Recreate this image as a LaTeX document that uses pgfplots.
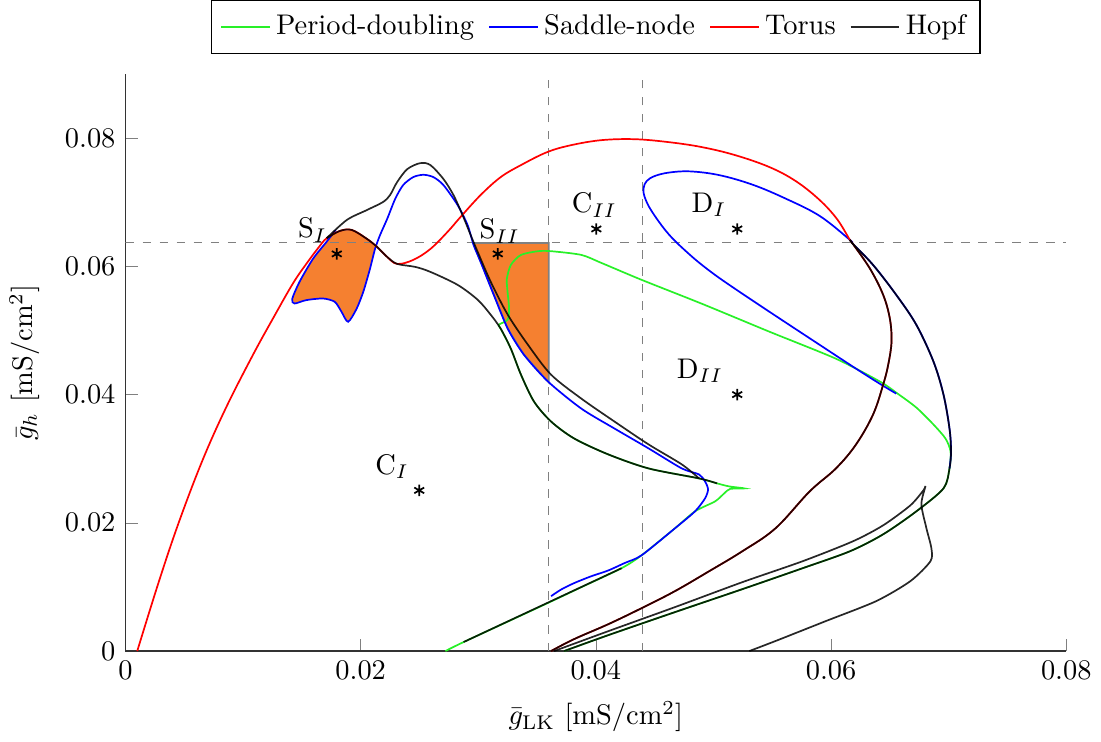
\documentclass[border=0pt]{standalone}
\usepackage{pgfplots}
\pgfplotsset{compat=1.18}
\definecolor{fillor}{RGB}{245,128,48}
\definecolor{pdgreen}{RGB}{40,240,40}
\begin{document}
\begin{tikzpicture}
\begin{axis}[
  scale only axis, width=331pt, height=203pt,
  xmin=0, xmax=0.08, ymin=0, ymax=0.09,
  axis lines*=left, tick align=inside,
  axis line style={black!80},
  major tick style={gray},
  xtick={0,0.02,0.04,0.06,0.08}, ytick={0,0.02,0.04,0.06,0.08},
  scaled ticks=false,
  xticklabel style={/pgf/number format/fixed,/pgf/number format/precision=2},
  yticklabel style={/pgf/number format/fixed,/pgf/number format/precision=2},
  xlabel={$\bar{g}_{\mathrm{LK}}$ [mS/cm$^2$]},
  ylabel={$\bar{g}_h$ [mS/cm$^2$]},
  ylabel shift=2pt, xlabel shift=1pt,
  legend style={at={(0.5,1.035)}, anchor=south, legend columns=-1, draw=black,
    inner ysep=3pt, /tikz/every even column/.append style={column sep=3pt}},
  every axis plot/.append style={line width=0.6pt},
]
\addlegendimage{pdgreen}\addlegendentry{Period-doubling}
\addlegendimage{blue}\addlegendentry{Saddle-node}
\addlegendimage{red}\addlegendentry{Torus}
\addlegendimage{black!85}\addlegendentry{Hopf}

% orange regions
\addplot[fill=fillor, draw=none, forget plot] coordinates {
(0.01711,0.06440)(0.01823,0.06553)(0.01925,0.06568)(0.02054,0.06428)(0.02139,0.06304)(0.02122,0.06272)
(0.02079,0.05961)(0.02022,0.05603)(0.01965,0.05338)(0.01893,0.05136)(0.01837,0.05292)(0.01780,0.05447)
(0.01680,0.05499)(0.01538,0.05474)(0.01437,0.05421)(0.01418,0.05494)(0.01480,0.05759)(0.01594,0.06117)(0.01709,0.06381)} -- cycle;
\addplot[fill=fillor, draw=gray, forget plot] coordinates {
(0.02955,0.06366)(0.03020,0.06070)(0.03132,0.05556)(0.03251,0.05027)(0.03388,0.04623)(0.03594,0.04202)(0.0360,0.0419)(0.0360,0.06366)} -- cycle;

% dashed guides
\addplot[gray, dashed, line width=0.4pt, forget plot] coordinates {(0.036,0)(0.036,0.09)};
\addplot[gray, dashed, line width=0.4pt, forget plot] coordinates {(0.044,0)(0.044,0.09)};
\addplot[gray, dashed, line width=0.4pt, forget plot] coordinates {(0,0.06366)(0.08,0.06366)};

% Period-doubling
\addplot[pdgreen, smooth, tension=0.45, forget plot] coordinates {
(0.02721,0)(0.02875,0.00140)(0.03534,0.00700)(0.03876,0.00996)(0.04218,0.01292)(0.04389,0.01494)
(0.04672,0.01914)(0.04843,0.02179)(0.05014,0.02335)(0.05091,0.02459)(0.05142,0.02529)(0.05262,0.02537)
(0.05134,0.02568)(0.05031,0.02615)(0.04877,0.02693)(0.04449,0.02848)(0.04107,0.03066)(0.03816,0.03315)
(0.03619,0.03580)(0.03474,0.03891)(0.03363,0.04311)(0.03277,0.04716)(0.03191,0.05027)(0.03174,0.05089)
(0.03249,0.05167)(0.03262,0.05338)(0.03249,0.05603)(0.03243,0.05805)(0.03277,0.06023)(0.03363,0.06179)
(0.03508,0.06237)(0.03619,0.06237)(0.03876,0.06179)(0.04047,0.06054)(0.04389,0.05790)(0.04903,0.05416)
(0.05476,0.04981)(0.06041,0.04560)(0.06417,0.04202)(0.06554,0.04031)(0.06725,0.03798)(0.06871,0.03533)
(0.06973,0.03315)(0.07016,0.03113)(0.07007,0.02848)(0.06956,0.02537)(0.06725,0.02179)(0.06443,0.01821)
(0.06160,0.01556)(0.05758,0.01292)(0.05245,0.00965)(0.04672,0.00607)(0.04107,0.00249)(0.03730,0)};

% Saddle-node
\addplot[blue, smooth, tension=0.45, forget plot] coordinates {
(0.01788,0.06568)(0.01709,0.06381)(0.01594,0.06117)(0.01480,0.05759)(0.01418,0.05494)(0.01437,0.05421)
(0.01538,0.05474)(0.01680,0.05499)(0.01780,0.05447)(0.01837,0.05292)(0.01893,0.05136)(0.01965,0.05338)
(0.02022,0.05603)(0.02079,0.05961)(0.02122,0.06272)(0.02165,0.06490)(0.02225,0.06739)(0.02293,0.07051)
(0.02361,0.07268)(0.02447,0.07393)(0.02533,0.07429)(0.02618,0.07393)(0.02704,0.07268)(0.02824,0.06957)
(0.02909,0.06646)(0.02960,0.06335)(0.03020,0.06070)(0.03132,0.05556)(0.03251,0.05027)(0.03388,0.04623)
(0.03594,0.04202)(0.03876,0.03782)(0.04158,0.03471)(0.04449,0.03160)(0.04731,0.02848)(0.04877,0.02755)
(0.04928,0.02646)(0.04954,0.02521)(0.04928,0.02381)(0.04843,0.02179)(0.04672,0.01914)(0.04389,0.01494)
(0.04246,0.01374)(0.04104,0.01256)(0.03961,0.01167)(0.03819,0.01063)(0.03705,0.00960)(0.03619,0.00856)};
\addplot[blue, smooth, tension=0.6, forget plot] coordinates {
(0.06554,0.04016)(0.06426,0.04156)(0.06212,0.04405)(0.05929,0.04745)(0.05476,0.05292)
(0.05134,0.05712)(0.04960,0.05940)(0.04800,0.06180)(0.04620,0.06500)(0.04475,0.06860)(0.04415,0.07082)(0.04406,0.07222)
(0.04432,0.07331)(0.04500,0.07409)(0.04620,0.07463)(0.04800,0.07482)(0.05048,0.07424)(0.05330,0.07276)
(0.05613,0.07058)(0.05904,0.06786)(0.06160,0.06413)(0.06186,0.06350)(0.06357,0.06023)(0.06554,0.05556)
(0.06725,0.05089)(0.06871,0.04514)(0.06956,0.04000)(0.07007,0.03471)(0.07020,0.03113)(0.07007,0.02848)};

% Torus
\addplot[red, smooth, tension=0.6, forget plot] coordinates {
(0.00100,0)(0.00285,0.01090)(0.00456,0.02020)(0.00656,0.02980)(0.00856,0.03800)(0.01084,0.04620)
(0.01255,0.05190)(0.01426,0.05740)(0.01550,0.06070)(0.01640,0.06290)(0.01711,0.06440)
(0.01823,0.06553)(0.01925,0.06568)(0.02054,0.06428)(0.02139,0.06304)(0.02225,0.06148)(0.02310,0.06039)
(0.02447,0.06101)(0.02593,0.06272)(0.02738,0.06537)(0.02849,0.06770)(0.03020,0.07113)(0.03191,0.07393)
(0.03363,0.07580)(0.03585,0.07782)(0.03790,0.07891)(0.04047,0.07969)(0.04329,0.07984)(0.04620,0.07938)
(0.04903,0.07860)(0.05185,0.07735)(0.05476,0.07549)(0.05700,0.07330)(0.05900,0.07040)(0.06050,0.06740)(0.06160,0.06413)
(0.06186,0.06350)(0.06332,0.05961)(0.06443,0.05556)(0.06500,0.05183)(0.06514,0.04825)(0.06486,0.04467)
(0.06443,0.04156)(0.06357,0.03689)(0.06212,0.03222)(0.06041,0.02848)(0.05818,0.02490)(0.05527,0.01914)
(0.05245,0.01556)(0.04963,0.01245)(0.04672,0.00934)(0.04389,0.00669)(0.04107,0.00420)(0.03816,0.00187)(0.03619,0)};

% Hopf
\addplot[black, opacity=0.85, smooth, tension=0.5, forget plot] coordinates {
(0.01711,0.06440)(0.01823,0.06553)(0.01925,0.06568)(0.02054,0.06428)(0.02139,0.06304)(0.02225,0.06148)
(0.02310,0.06039)(0.02464,0.05992)(0.02593,0.05914)(0.02824,0.05712)(0.02995,0.05479)(0.03106,0.05245)
(0.03191,0.05027)(0.03277,0.04716)(0.03363,0.04311)(0.03474,0.03891)(0.03619,0.03580)(0.03816,0.03315)
(0.04107,0.03066)(0.04449,0.02848)(0.04877,0.02693)(0.05031,0.02615)};
\addplot[black, opacity=0.85, smooth, tension=0.5, forget plot] coordinates {
(0.01711,0.06440)(0.01882,0.06724)(0.02053,0.06879)(0.02190,0.07004)(0.02250,0.07113)(0.02310,0.07315)
(0.02396,0.07517)(0.02507,0.07611)(0.02593,0.07580)(0.02704,0.07362)(0.02789,0.07113)(0.02866,0.06802)
(0.02935,0.06490)(0.02995,0.06226)(0.03106,0.05759)(0.03251,0.05245)(0.03422,0.04778)(0.03619,0.04311)
(0.03876,0.03938)(0.04158,0.03580)(0.04449,0.03222)(0.04731,0.02911)(0.04877,0.02693)};
\addplot[black, opacity=0.85, smooth, tension=0.45, forget plot] coordinates {
(0.03645,0)(0.04107,0.00311)(0.04672,0.00685)(0.05245,0.01074)(0.05758,0.01401)(0.06186,0.01712)
(0.06443,0.01961)(0.06674,0.02272)(0.06785,0.02506)(0.06802,0.02568)(0.06768,0.02288)(0.06811,0.01914)
(0.06853,0.01603)(0.06845,0.01401)(0.06674,0.01090)(0.06383,0.00778)(0.05955,0.00467)(0.05527,0.00156)(0.05305,0)};
\addplot[black, opacity=0.85, smooth, tension=0.5, forget plot] coordinates {
(0.06160,0.06413)(0.06186,0.06350)(0.06357,0.06023)(0.06554,0.05556)(0.06725,0.05089)(0.06871,0.04514)
(0.06956,0.04000)(0.07007,0.03471)(0.07020,0.03113)(0.07007,0.02848)(0.06956,0.02537)(0.06725,0.02179)
(0.06443,0.01821)(0.06160,0.01556)(0.05758,0.01292)(0.05245,0.00965)(0.04672,0.00607)(0.04107,0.00249)(0.03730,0)};
\addplot[black, opacity=0.85, smooth, tension=0.6, forget plot] coordinates {
(0.06160,0.06413)(0.06186,0.06350)(0.06332,0.05961)(0.06443,0.05556)(0.06500,0.05183)(0.06514,0.04825)
(0.06486,0.04467)(0.06443,0.04156)(0.06357,0.03689)(0.06212,0.03222)(0.06041,0.02848)(0.05818,0.02490)
(0.05527,0.01914)(0.05245,0.01556)(0.04963,0.01245)(0.04672,0.00934)(0.04389,0.00669)(0.04107,0.00420)
(0.03816,0.00187)(0.03619,0)};
\addplot[black, opacity=0.85, forget plot] coordinates {(0.02875,0.00140)(0.04218,0.01292)};

% region markers
\addplot[only marks, mark=asterisk, mark size=2pt, black, forget plot] coordinates {
(0.01797,0.06195)(0.03166,0.06195)(0.04004,0.06584)(0.05202,0.06584)(0.05202,0.04000)(0.02498,0.02506)};
\node at (axis cs:0.01591,0.06568) {S$_I$};
\node at (axis cs:0.03183,0.06553) {S$_{II}$};
\node at (axis cs:0.03987,0.06957) {C$_{II}$};
\node at (axis cs:0.04963,0.06957) {D$_I$};
\node at (axis cs:0.04886,0.04374) {D$_{II}$};
\node at (axis cs:0.02267,0.02879) {C$_I$};
\end{axis}
\end{tikzpicture}
\end{document}
